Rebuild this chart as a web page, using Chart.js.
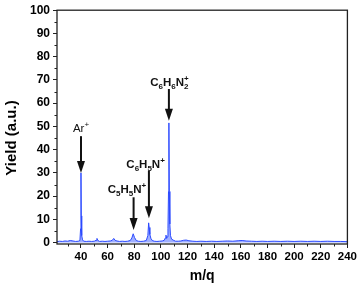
<!DOCTYPE html>
<html lang="en">
<head>
    <meta charset="UTF-8">
    <title>Mass spectrum</title>
    <script src="https://cdn.jsdelivr.net/npm/chart.js"></script>
    <style>
        body { margin: 0; background: #fff; }
        #wrap { width: 359px; height: 289px; }
    </style>
</head>
<body>
    <div id="wrap"><canvas id="spectrum" width="359" height="289"></canvas></div>
    <script>
        // m/q positions and yield (a.u.)
        const mz = [22, 24, 26, 28, 30, 32, 34, 36, 38, 39.2, 39.7, 40, 40.2, 40.4, 40.7, 41.2, 42, 44, 46, 48,
            50, 51.3, 52, 52.7, 54, 56, 58, 60, 62, 63.5, 64.6, 65.6, 67, 69, 71, 73, 75, 77, 78.2, 79.2,
            80.2, 81.5, 83, 85, 87, 89, 90.2, 90.8, 91.2, 91.7, 92.5, 93.5, 95, 97, 99, 101, 102.5, 103.3, 103.8, 104.3,
            104.8, 105.3, 105.7, 106, 106.3, 106.7, 107.2, 108, 109.5, 111, 113, 115, 117, 119, 121, 124, 127, 130, 134, 138,
            142, 146, 150, 154, 158, 161, 164, 168, 172, 176, 180, 185, 190, 195, 200, 205, 210, 215, 220, 225,
            230, 235, 240];
        const yieldVals = [0.4, 0.6, 0.5, 0.7, 0.6, 0.9, 0.7, 0.5, 0.6, 0.9, 6, 30, 11.5, 8, 3, 1.2, 0.6, 0.5, 0.6, 0.5,
            0.6, 1.0, 1.8, 0.9, 0.5, 0.6, 0.5, 0.6, 0.7, 1.0, 1.8, 1.0, 0.7, 0.5, 0.6, 0.5, 0.6, 0.9, 2.0, 3.8,
            2.2, 0.9, 0.6, 0.5, 0.6, 0.9, 3.0, 8.5, 6.5, 3.5, 1.8, 0.9, 0.6, 0.5, 0.6, 0.7, 1.0, 2.0, 3.2, 1.8,
            2.5, 6, 22, 51.5, 22, 8, 3, 1.5, 1.0, 0.6, 0.6, 0.7, 1.0, 1.1, 0.8, 0.6, 0.5, 0.6, 0.5, 0.6,
            0.5, 0.6, 0.7, 0.6, 0.8, 0.9, 0.7, 0.6, 0.5, 0.6, 0.5, 0.6, 0.5, 0.6, 0.5, 0.6, 0.5, 0.6, 0.5, 0.6,
            0.5, 0.5, 0.4];

        const xTicks = [40, 60, 80, 100, 120, 140, 160, 180, 200, 220, 240];
        const xMinorTicks = [30, 50, 70, 90, 110, 130, 150, 170, 190, 210, 230];
        const yTicks = [0, 10, 20, 30, 40, 50, 60, 70, 80, 90, 100];
        const yMinorTicks = [5, 15, 25, 35, 45, 55, 65, 75, 85, 95];

        // peak assignments: label text (_ = subscript, ^ = superscript), label spot and arrow
        const peakLabels = ['Ar^+', 'C_5H_5N^+', 'C_6H_5N^+', 'C_6H_6N_2^+'];
        const labelMz = [40, 74.5, 88.5, 106.4];
        const labelYield = [47.5, 21.5, 32.2, 67.4];
        const arrowMz = [40, 79.5, 91, 106];
        const arrowTop = [45.8, 19.5, 30.9, 66.1];
        const arrowTip = [30.0, 5.4, 10.5, 52.4];

        const FONT = 'Liberation Sans, Arial, sans-serif';

        // split "C_6H_6N_2^+" into pieces with a vertical shift
        function parseFormula(s) {
            const parts = [];
            for (let i = 0; i < s.length; i++) {
                const c = s[i];
                if (c === '_') { parts.push({ t: s[++i], k: 'sub' }); }
                else if (c === '^') { parts.push({ t: s[++i], k: 'sup' }); }
                else parts.push({ t: c, k: 'main' });
            }
            return parts;
        }

        function drawFormula(ctx, text, cx, baseY, bold) {
            const w = bold ? 'bold ' : '';
            const mainFont = w + '11.5px ' + FONT;
            const smallFont = w + '8px ' + FONT;
            const parts = parseFormula(text);
            let total = 0;
            parts.forEach((p, i) => {
                ctx.font = p.k === 'main' ? mainFont : smallFont;
                p.w = ctx.measureText(p.t).width;
                if (p.k === 'sup' && i > 0 && parts[i - 1].k === 'sub') {
                    p.stack = true;
                    total += Math.max(0, p.w - parts[i - 1].w);
                } else total += p.w;
            });
            let x = cx - total / 2;
            let lastX = x;
            ctx.textBaseline = 'alphabetic';
            ctx.textAlign = 'left';
            parts.forEach(p => {
                ctx.font = p.k === 'main' ? mainFont : smallFont;
                const dy = p.k === 'sub' ? 3 : (p.k === 'sup' ? -5 : 0);
                if (p.stack) {
                    ctx.fillText(p.t, lastX, baseY + dy);
                    x = Math.max(x, lastX + p.w);
                } else {
                    ctx.fillText(p.t, x, baseY + dy);
                    lastX = x;
                    x += p.w;
                }
            });
        }

        const framePlugin = {
            id: 'frameAndMarks',
            afterDatasetsDraw(chart) {
                const { ctx, chartArea: a, scales } = chart;
                const xs = scales.x, ys = scales.y;
                ctx.save();
                ctx.strokeStyle = '#222';
                ctx.lineWidth = 1.3;
                ctx.strokeRect(a.left, a.top, a.right - a.left, a.bottom - a.top);

                // minor ticks
                ctx.lineWidth = 1;
                ctx.beginPath();
                xMinorTicks.forEach(v => {
                    const px = Math.round(xs.getPixelForValue(v)) + 0.5;
                    ctx.moveTo(px, a.bottom); ctx.lineTo(px, a.bottom + 2.5);
                });
                yMinorTicks.forEach(v => {
                    const py = Math.round(ys.getPixelForValue(v)) + 0.5;
                    ctx.moveTo(a.left, py); ctx.lineTo(a.left - 2.5, py);
                });
                ctx.stroke();

                // y axis title, sitting a little below the middle as in the original
                ctx.fillStyle = '#000';
                ctx.font = 'bold 15px ' + FONT;
                ctx.textAlign = 'center';
                ctx.textBaseline = 'middle';
                ctx.translate(12, 138);
                ctx.rotate(-Math.PI / 2);
                ctx.fillText('Yield (a.u.)', 0, 0);
                ctx.setTransform(1, 0, 0, 1, 0, 0);

                // arrows and labels
                ctx.fillStyle = '#111';
                ctx.strokeStyle = '#111';
                arrowMz.forEach((m, i) => {
                    const px = xs.getPixelForValue(m);
                    const top = ys.getPixelForValue(arrowTop[i]);
                    const tip = ys.getPixelForValue(arrowTip[i]);
                    const headLen = 12, headW = 4;
                    ctx.lineWidth = 2;
                    ctx.beginPath();
                    ctx.moveTo(px, top);
                    ctx.lineTo(px, tip - headLen + 1);
                    ctx.stroke();
                    ctx.beginPath();
                    ctx.moveTo(px - headW, tip - headLen);
                    ctx.lineTo(px + headW, tip - headLen);
                    ctx.lineTo(px, tip);
                    ctx.closePath();
                    ctx.fill();

                    drawFormula(ctx, peakLabels[i], xs.getPixelForValue(labelMz[i]),
                        ys.getPixelForValue(labelYield[i]), i > 0);
                });
                ctx.restore();
            }
        };

        const ctx = document.getElementById('spectrum').getContext('2d');
        const spectrumChart = new Chart(ctx, {
            type: 'line',
            data: {
                datasets: [{
                    data: mz.map((m, i) => ({ x: m, y: yieldVals[i] })),
                    borderColor: 'rgb(45, 75, 255)',
                    backgroundColor: 'rgba(80, 110, 255, 0.55)',
                    borderWidth: 1,
                    pointRadius: 0,
                    tension: 0,
                    fill: 'origin'
                }]
            },
            options: {
                responsive: false,
                animation: false,
                layout: { padding: { left: 0, right: 11, top: 7, bottom: 0 } },
                plugins: { legend: { display: false }, tooltip: { enabled: false } },
                scales: {
                    x: {
                        type: 'linear',
                        min: 22,
                        max: 240,
                        afterBuildTicks: s => { s.ticks = xTicks.map(v => ({ value: v })); },
                        afterFit: s => { s.height = 45; },
                        border: { display: false },
                        grid: { drawOnChartArea: false, drawTicks: true, tickLength: 4, color: '#222', lineWidth: 1 },
                        ticks: { color: '#000', padding: 2, maxRotation: 0, font: { family: FONT, size: 11.5, weight: 'bold' } },
                        title: { display: true, text: 'm/q', color: '#000', padding: { top: 0, bottom: 4 },
                            font: { family: FONT, size: 14, weight: 'bold' } }
                    },
                    y: {
                        min: -0.6,
                        max: 100,
                        afterBuildTicks: s => { s.ticks = yTicks.map(v => ({ value: v })); },
                        afterFit: s => { s.width = 57; },
                        border: { display: false },
                        grid: { drawOnChartArea: false, drawTicks: true, tickLength: 4, color: '#222', lineWidth: 1 },
                        ticks: { color: '#000', padding: 3, font: { family: FONT, size: 12, weight: 'bold' } }
                    }
                }
            },
            plugins: [framePlugin]
        });
    </script>
</body>
</html>
